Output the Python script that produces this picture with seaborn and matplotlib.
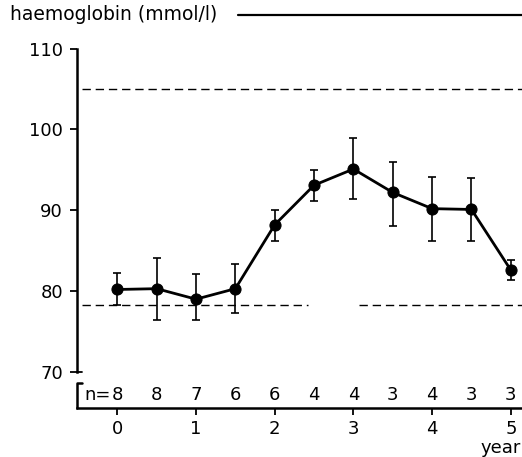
import matplotlib
matplotlib.use("Agg")
import matplotlib.pyplot as plt
import matplotlib.transforms as mtransforms
import seaborn as sns
import numpy as np
import pandas as pd

# ---- data ----
years = [0, 0.5, 1, 1.5, 2, 2.5, 3, 3.5, 4, 4.5, 5]
hb_mean = [80.2, 80.3, 79.0, 80.3, 88.2, 93.1, 95.1, 92.2, 90.2, 90.1, 82.6]
hb_upper = [82.3, 84.1, 82.1, 83.3, 90.0, 95.0, 98.9, 96.0, 94.1, 94.0, 83.8]
hb_lower = [78.3, 76.4, 76.4, 77.3, 86.2, 91.2, 91.4, 88.0, 86.2, 86.2, 81.4]
n_counts = ["8", "8", "7", "6", "6", "4", "4", "3", "4", "3", "3"]
ref_high = 105.0
ref_low = 78.3
ref_low_gap = (2.42, 3.07)
x_ticks = [0, 1, 2, 3, 4, 5]
y_ticks = [70, 80, 90, 100, 110]
y_label = "haemoglobin (mmol/l)"
x_label = "year"

df = pd.DataFrame({"year": years, "hb": hb_mean})

sns.set_theme(style="ticks")
plt.rcParams["font.family"] = ["DejaVu Sans"]
plt.rcParams["text.color"] = "black"

W, H = 522, 457
fig = plt.figure(figsize=(W / 100, H / 100), dpi=100)
ax = fig.add_axes([77 / W, 1 - 407.5 / H, 445 / W, (407.5 - 48.6) / H])

xmin, xmax = -0.512, 5.142
ymin, ymax = 65.6, 110.0
ax.set_xlim(xmin, xmax)
ax.set_ylim(ymin, ymax)

# reference (normal range) dashed lines
dash_kw = dict(color="black", lw=1.0, dashes=(6, 3.5))
ax.plot([-0.45, xmax], [ref_high, ref_high], **dash_kw)
ax.plot([-0.45, ref_low_gap[0]], [ref_low, ref_low], **dash_kw)
ax.plot([ref_low_gap[1], xmax], [ref_low, ref_low], **dash_kw)

# error bars
yerr = np.array([np.array(hb_mean) - np.array(hb_lower),
                 np.array(hb_upper) - np.array(hb_mean)])
ax.errorbar(years, hb_mean, yerr=yerr, fmt="none", ecolor="black",
            elinewidth=1.2, capsize=3.2, capthick=1.2, zorder=2)

# main line
sns.lineplot(data=df, x="year", y="hb", ax=ax, color="black", lw=2.0,
             marker="o", markersize=8, markeredgecolor="black",
             markerfacecolor="black", zorder=3)

# axes styling
ax.set_xlabel("")
ax.set_ylabel("")
ax.spines["top"].set_visible(False)
ax.spines["right"].set_visible(False)
ax.spines["left"].set_bounds(70, 110)
ax.spines["left"].set_linewidth(1.8)
ax.spines["bottom"].set_linewidth(1.8)
ax.spines["left"].set_color("black")
ax.spines["bottom"].set_color("black")
ax.set_xticks(x_ticks)
ax.set_xticklabels([str(v) for v in x_ticks])
ax.set_yticks(y_ticks)
ax.set_yticklabels([str(v) for v in y_ticks])
ax.tick_params(axis="both", direction="out", length=5, width=1.3,
               labelsize=13, colors="black")
ax.tick_params(axis="y", pad=5)
ax.tick_params(axis="x", pad=4)

# small serif at bottom of y spine
ax.plot([xmin, xmin + 0.06], [70, 70], color="black", lw=1.3, clip_on=False)

# bracket for n-row
tr_ax = ax.transAxes
ax.plot([0, 0, 0.011], [0, 0.069, 0.069], color="black", lw=1.8,
        transform=tr_ax, clip_on=False)

# n labels
blend = mtransforms.blended_transform_factory(ax.transData, ax.transAxes)
for xv, nv in zip(years, n_counts):
    ax.text(xv, 0.035, nv, transform=blend, ha="center", va="center",
            fontsize=13, color="black")
ax.annotate("n=", xy=(years[0], 0.035), xycoords=blend,
            xytext=(-4.5, 0), textcoords="offset points",
            ha="right", va="center", fontsize=13, color="black")

# header label with long rule
fig.text(10 / W, 1 - 15 / H, y_label, ha="left", va="center", fontsize=13.5,
         color="black")
fig.add_artist(plt.Line2D([238 / W, 1.0], [1 - 15 / H, 1 - 15 / H],
                          color="black", lw=1.6, transform=fig.transFigure))

# year label
fig.text(521 / W, 1 - 448 / H, x_label, ha="right", va="center", fontsize=13,
         color="black")

fig.savefig("out.png", dpi=100)
